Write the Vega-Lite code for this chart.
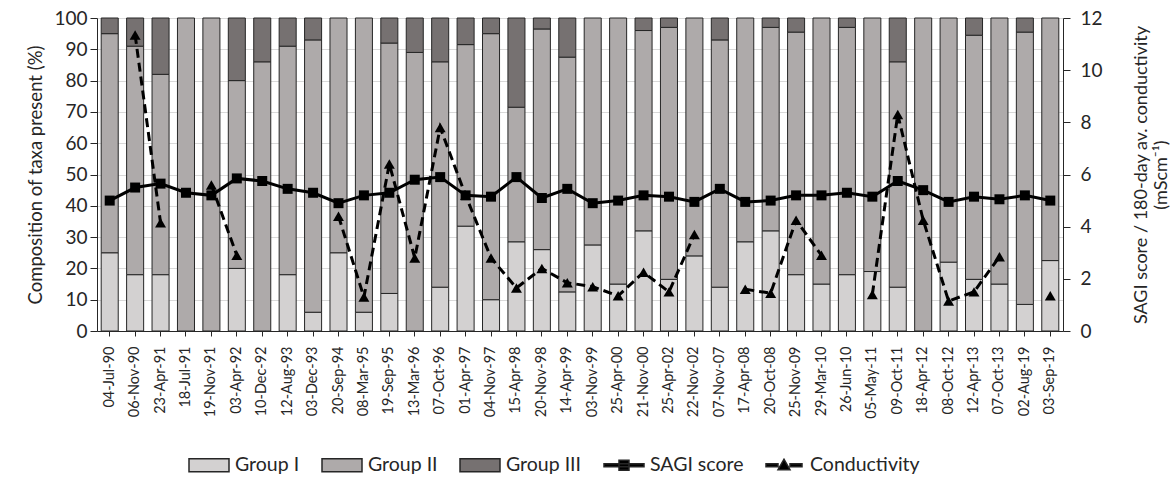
{
  "$schema": "https://vega.github.io/schema/vega-lite/v6.json",
  "width": 966,
  "height": 313,
  "autosize": {"type": "none"},
  "padding": {"left": 97, "top": 18, "right": 113, "bottom": 148},
  "background": "white",
  "config": {
    "font": "Lato",
    "view": {"stroke": null},
    "axis": {
      "labelFont": "Lato",
      "titleFont": "Lato",
      "labelColor": "#262626",
      "titleColor": "#262626",
      "domainColor": "#262626",
      "tickColor": "#262626",
      "titleFontWeight": "normal"
    }
  },
  "datasets": {
    "taxa": [
      {"date": "04-Jul-90", "series": "Group I", "pct": 25}, {"date": "04-Jul-90", "series": "Group II", "pct": 70}, {"date": "04-Jul-90", "series": "Group III", "pct": 5},
      {"date": "06-Nov-90", "series": "Group I", "pct": 18}, {"date": "06-Nov-90", "series": "Group II", "pct": 73}, {"date": "06-Nov-90", "series": "Group III", "pct": 9},
      {"date": "23-Apr-91", "series": "Group I", "pct": 18}, {"date": "23-Apr-91", "series": "Group II", "pct": 64}, {"date": "23-Apr-91", "series": "Group III", "pct": 18},
      {"date": "18-Jul-91", "series": "Group II", "pct": 100},
      {"date": "19-Nov-91", "series": "Group II", "pct": 100},
      {"date": "03-Apr-92", "series": "Group I", "pct": 20}, {"date": "03-Apr-92", "series": "Group II", "pct": 60}, {"date": "03-Apr-92", "series": "Group III", "pct": 20},
      {"date": "10-Dec-92", "series": "Group II", "pct": 86}, {"date": "10-Dec-92", "series": "Group III", "pct": 14},
      {"date": "12-Aug-93", "series": "Group I", "pct": 18}, {"date": "12-Aug-93", "series": "Group II", "pct": 73}, {"date": "12-Aug-93", "series": "Group III", "pct": 9},
      {"date": "03-Dec-93", "series": "Group I", "pct": 6}, {"date": "03-Dec-93", "series": "Group II", "pct": 87}, {"date": "03-Dec-93", "series": "Group III", "pct": 7},
      {"date": "20-Sep-94", "series": "Group I", "pct": 25}, {"date": "20-Sep-94", "series": "Group II", "pct": 75},
      {"date": "08-Mar-95", "series": "Group I", "pct": 6}, {"date": "08-Mar-95", "series": "Group II", "pct": 94},
      {"date": "19-Sep-95", "series": "Group I", "pct": 12}, {"date": "19-Sep-95", "series": "Group II", "pct": 80}, {"date": "19-Sep-95", "series": "Group III", "pct": 8},
      {"date": "13-Mar-96", "series": "Group II", "pct": 89}, {"date": "13-Mar-96", "series": "Group III", "pct": 11},
      {"date": "07-Oct-96", "series": "Group I", "pct": 14}, {"date": "07-Oct-96", "series": "Group II", "pct": 72}, {"date": "07-Oct-96", "series": "Group III", "pct": 14},
      {"date": "01-Apr-97", "series": "Group I", "pct": 33.5}, {"date": "01-Apr-97", "series": "Group II", "pct": 58}, {"date": "01-Apr-97", "series": "Group III", "pct": 8.5},
      {"date": "04-Nov-97", "series": "Group I", "pct": 10}, {"date": "04-Nov-97", "series": "Group II", "pct": 85}, {"date": "04-Nov-97", "series": "Group III", "pct": 5},
      {"date": "15-Apr-98", "series": "Group I", "pct": 28.5}, {"date": "15-Apr-98", "series": "Group II", "pct": 43}, {"date": "15-Apr-98", "series": "Group III", "pct": 28.5},
      {"date": "20-Nov-98", "series": "Group I", "pct": 26}, {"date": "20-Nov-98", "series": "Group II", "pct": 70.5}, {"date": "20-Nov-98", "series": "Group III", "pct": 3.5},
      {"date": "14-Apr-99", "series": "Group I", "pct": 12.5}, {"date": "14-Apr-99", "series": "Group II", "pct": 75}, {"date": "14-Apr-99", "series": "Group III", "pct": 12.5},
      {"date": "03-Nov-99", "series": "Group I", "pct": 27.5}, {"date": "03-Nov-99", "series": "Group II", "pct": 72.5},
      {"date": "25-Apr-00", "series": "Group I", "pct": 15}, {"date": "25-Apr-00", "series": "Group II", "pct": 85},
      {"date": "21-Nov-00", "series": "Group I", "pct": 32}, {"date": "21-Nov-00", "series": "Group II", "pct": 64}, {"date": "21-Nov-00", "series": "Group III", "pct": 4},
      {"date": "25-Apr-02", "series": "Group I", "pct": 16.5}, {"date": "25-Apr-02", "series": "Group II", "pct": 80.5}, {"date": "25-Apr-02", "series": "Group III", "pct": 3},
      {"date": "22-Nov-02", "series": "Group I", "pct": 24}, {"date": "22-Nov-02", "series": "Group II", "pct": 76},
      {"date": "07-Nov-07", "series": "Group I", "pct": 14}, {"date": "07-Nov-07", "series": "Group II", "pct": 79}, {"date": "07-Nov-07", "series": "Group III", "pct": 7},
      {"date": "17-Apr-08", "series": "Group I", "pct": 28.5}, {"date": "17-Apr-08", "series": "Group II", "pct": 71.5},
      {"date": "20-Oct-08", "series": "Group I", "pct": 32}, {"date": "20-Oct-08", "series": "Group II", "pct": 65}, {"date": "20-Oct-08", "series": "Group III", "pct": 3},
      {"date": "25-Nov-09", "series": "Group I", "pct": 18}, {"date": "25-Nov-09", "series": "Group II", "pct": 77.5}, {"date": "25-Nov-09", "series": "Group III", "pct": 4.5},
      {"date": "29-Mar-10", "series": "Group I", "pct": 15}, {"date": "29-Mar-10", "series": "Group II", "pct": 85},
      {"date": "26-Jun-10", "series": "Group I", "pct": 18}, {"date": "26-Jun-10", "series": "Group II", "pct": 79}, {"date": "26-Jun-10", "series": "Group III", "pct": 3},
      {"date": "05-May-11", "series": "Group I", "pct": 19}, {"date": "05-May-11", "series": "Group II", "pct": 81},
      {"date": "09-Oct-11", "series": "Group I", "pct": 14}, {"date": "09-Oct-11", "series": "Group II", "pct": 72}, {"date": "09-Oct-11", "series": "Group III", "pct": 14},
      {"date": "18-Apr-12", "series": "Group II", "pct": 100},
      {"date": "08-Oct-12", "series": "Group I", "pct": 22}, {"date": "08-Oct-12", "series": "Group II", "pct": 78},
      {"date": "12-Apr-13", "series": "Group I", "pct": 16.5}, {"date": "12-Apr-13", "series": "Group II", "pct": 78}, {"date": "12-Apr-13", "series": "Group III", "pct": 5.5},
      {"date": "07-Oct-13", "series": "Group I", "pct": 15}, {"date": "07-Oct-13", "series": "Group II", "pct": 85},
      {"date": "02-Aug-19", "series": "Group I", "pct": 8.5}, {"date": "02-Aug-19", "series": "Group II", "pct": 87}, {"date": "02-Aug-19", "series": "Group III", "pct": 4.5},
      {"date": "03-Sep-19", "series": "Group I", "pct": 22.5}, {"date": "03-Sep-19", "series": "Group II", "pct": 77.5}
    ],
    "scores": [
      {"date": "04-Jul-90", "sagi": 5.0, "cond": null},
      {"date": "06-Nov-90", "sagi": 5.5, "cond": 11.35},
      {"date": "23-Apr-91", "sagi": 5.65, "cond": 4.15},
      {"date": "18-Jul-91", "sagi": 5.3, "cond": null},
      {"date": "19-Nov-91", "sagi": 5.2, "cond": 5.6},
      {"date": "03-Apr-92", "sagi": 5.85, "cond": 2.9},
      {"date": "10-Dec-92", "sagi": 5.75, "cond": null},
      {"date": "12-Aug-93", "sagi": 5.45, "cond": null},
      {"date": "03-Dec-93", "sagi": 5.3, "cond": null},
      {"date": "20-Sep-94", "sagi": 4.9, "cond": 4.4},
      {"date": "08-Mar-95", "sagi": 5.2, "cond": 1.3},
      {"date": "19-Sep-95", "sagi": 5.3, "cond": 6.4},
      {"date": "13-Mar-96", "sagi": 5.8, "cond": 2.8},
      {"date": "07-Oct-96", "sagi": 5.9, "cond": 7.8},
      {"date": "01-Apr-97", "sagi": 5.2, "cond": 5.2},
      {"date": "04-Nov-97", "sagi": 5.15, "cond": 2.8},
      {"date": "15-Apr-98", "sagi": 5.9, "cond": 1.65},
      {"date": "20-Nov-98", "sagi": 5.1, "cond": 2.4},
      {"date": "14-Apr-99", "sagi": 5.45, "cond": 1.85},
      {"date": "03-Nov-99", "sagi": 4.9, "cond": 1.7},
      {"date": "25-Apr-00", "sagi": 5.0, "cond": 1.35},
      {"date": "21-Nov-00", "sagi": 5.2, "cond": 2.25},
      {"date": "25-Apr-02", "sagi": 5.15, "cond": 1.5},
      {"date": "22-Nov-02", "sagi": 4.95, "cond": 3.7},
      {"date": "07-Nov-07", "sagi": 5.45, "cond": null},
      {"date": "17-Apr-08", "sagi": 4.95, "cond": 1.6},
      {"date": "20-Oct-08", "sagi": 5.0, "cond": 1.45},
      {"date": "25-Nov-09", "sagi": 5.2, "cond": 4.25},
      {"date": "29-Mar-10", "sagi": 5.2, "cond": 2.9},
      {"date": "26-Jun-10", "sagi": 5.3, "cond": null},
      {"date": "05-May-11", "sagi": 5.15, "cond": 1.4},
      {"date": "09-Oct-11", "sagi": 5.75, "cond": 8.3},
      {"date": "18-Apr-12", "sagi": 5.4, "cond": 4.25},
      {"date": "08-Oct-12", "sagi": 4.95, "cond": 1.15},
      {"date": "12-Apr-13", "sagi": 5.15, "cond": 1.5},
      {"date": "07-Oct-13", "sagi": 5.05, "cond": 2.85},
      {"date": "02-Aug-19", "sagi": 5.2, "cond": null},
      {"date": "03-Sep-19", "sagi": 5.0, "cond": 1.35}
    ]
  },
  "layer": [
    {
      "data": {"name": "taxa"},
      "mark": {"type": "bar", "stroke": "#262626", "strokeWidth": 1},
      "encoding": {
        "x": {
          "field": "date",
          "type": "nominal",
          "sort": null,
          "scale": {"paddingInner": 0.33, "paddingOuter": 0.165},
          "axis": {
            "title": null,
            "labelAngle": -90,
            "labelFontSize": 14.5,
            "labelPadding": 10,
            "tickSize": 5
          }
        },
        "y": {
          "field": "pct",
          "type": "quantitative",
          "stack": "zero",
          "scale": {"domain": [0, 100], "nice": false},
          "axis": {
            "title": "Composition of taxa present (%)",
            "values": [0, 10, 20, 30, 40, 50, 60, 70, 80, 90, 100],
            "grid": true,
            "gridColor": "#d9d9d9",
            "labelFontSize": 19,
            "titleFontSize": 18.5,
            "tickSize": 7,
            "labelPadding": 3,
            "titlePadding": 8
          }
        },
        "order": {"field": "series", "type": "nominal", "sort": "ascending"},
        "fill": {
          "field": "series",
          "type": "nominal",
          "scale": {
            "domain": ["Group I", "Group II", "Group III", "SAGI score", "Conductivity"],
            "range": ["#d3d1d1", "#aeaaaa", "#767171", "#000000", "#000000"]
          },
          "legend": {
            "orient": "none",
            "legendX": 91,
            "legendY": 426,
            "direction": "horizontal",
            "title": null,
            "padding": 0,
            "symbolSize": 1600,
            "symbolType": {"expr": "datum.value === 'SAGI score' ? 'M-1,-0.08H1V0.08H-1Z M-0.25,-0.25H0.25V0.25H-0.25Z' : datum.value === 'Conductivity' ? 'M-0.9,-0.08H-0.3V0.08H-0.9Z M0.3,-0.08H0.9V0.08H0.3Z M-0.3,0.22L0.3,0.22L0,-0.3Z' : 'M-1,-0.32H1V0.32H-1Z'"},
            "labelFont": "Lato",
            "labelFontSize": 19.5,
            "labelColor": "#262626",
            "labelOffset": 5,
            "labelLimit": 300,
            "columnPadding": 19
          }
        }
      }
    },
    {
      "data": {"name": "scores"},
      "layer": [
        {
          "mark": {"type": "line", "color": "#000000", "strokeWidth": 3, "strokeDash": [9, 5], "invalid": "break-paths-show-domains"},
          "encoding": {
            "x": {"field": "date", "type": "nominal", "sort": null},
            "y": {
              "field": "cond",
              "type": "quantitative",
              "scale": {"domain": [0, 12], "nice": false},
              "axis": {
                "orient": "right",
                "title": ["SAGI score / 180-day av. conductivity", "(mScm⁻¹)"],
                "values": [0, 2, 4, 6, 8, 10, 12],
                "grid": false,
                "labelFontSize": 19,
                "titleFontSize": 18,
                "tickSize": 7,
                "labelPadding": 10,
                "titleAngle": 270,
                "titleBaseline": "top",
                "titlePadding": 10
              }
            }
          }
        },
        {
          "mark": {"type": "line", "color": "#000000", "strokeWidth": 3},
          "encoding": {
            "x": {"field": "date", "type": "nominal", "sort": null},
            "y": {"field": "sagi", "type": "quantitative"}
          }
        },
        {
          "transform": [{"filter": {"field": "cond", "valid": true}}],
          "mark": {"type": "point", "shape": "triangle-up", "filled": true, "color": "#000000", "opacity": 1, "size": 120},
          "encoding": {
            "x": {"field": "date", "type": "nominal", "sort": null},
            "y": {"field": "cond", "type": "quantitative"}
          }
        },
        {
          "mark": {"type": "point", "shape": "square", "filled": true, "color": "#000000", "opacity": 1, "size": 100},
          "encoding": {
            "x": {"field": "date", "type": "nominal", "sort": null},
            "y": {"field": "sagi", "type": "quantitative"}
          }
        }
      ]
    }
  ],
  "resolve": {"scale": {"y": "independent"}}
}
